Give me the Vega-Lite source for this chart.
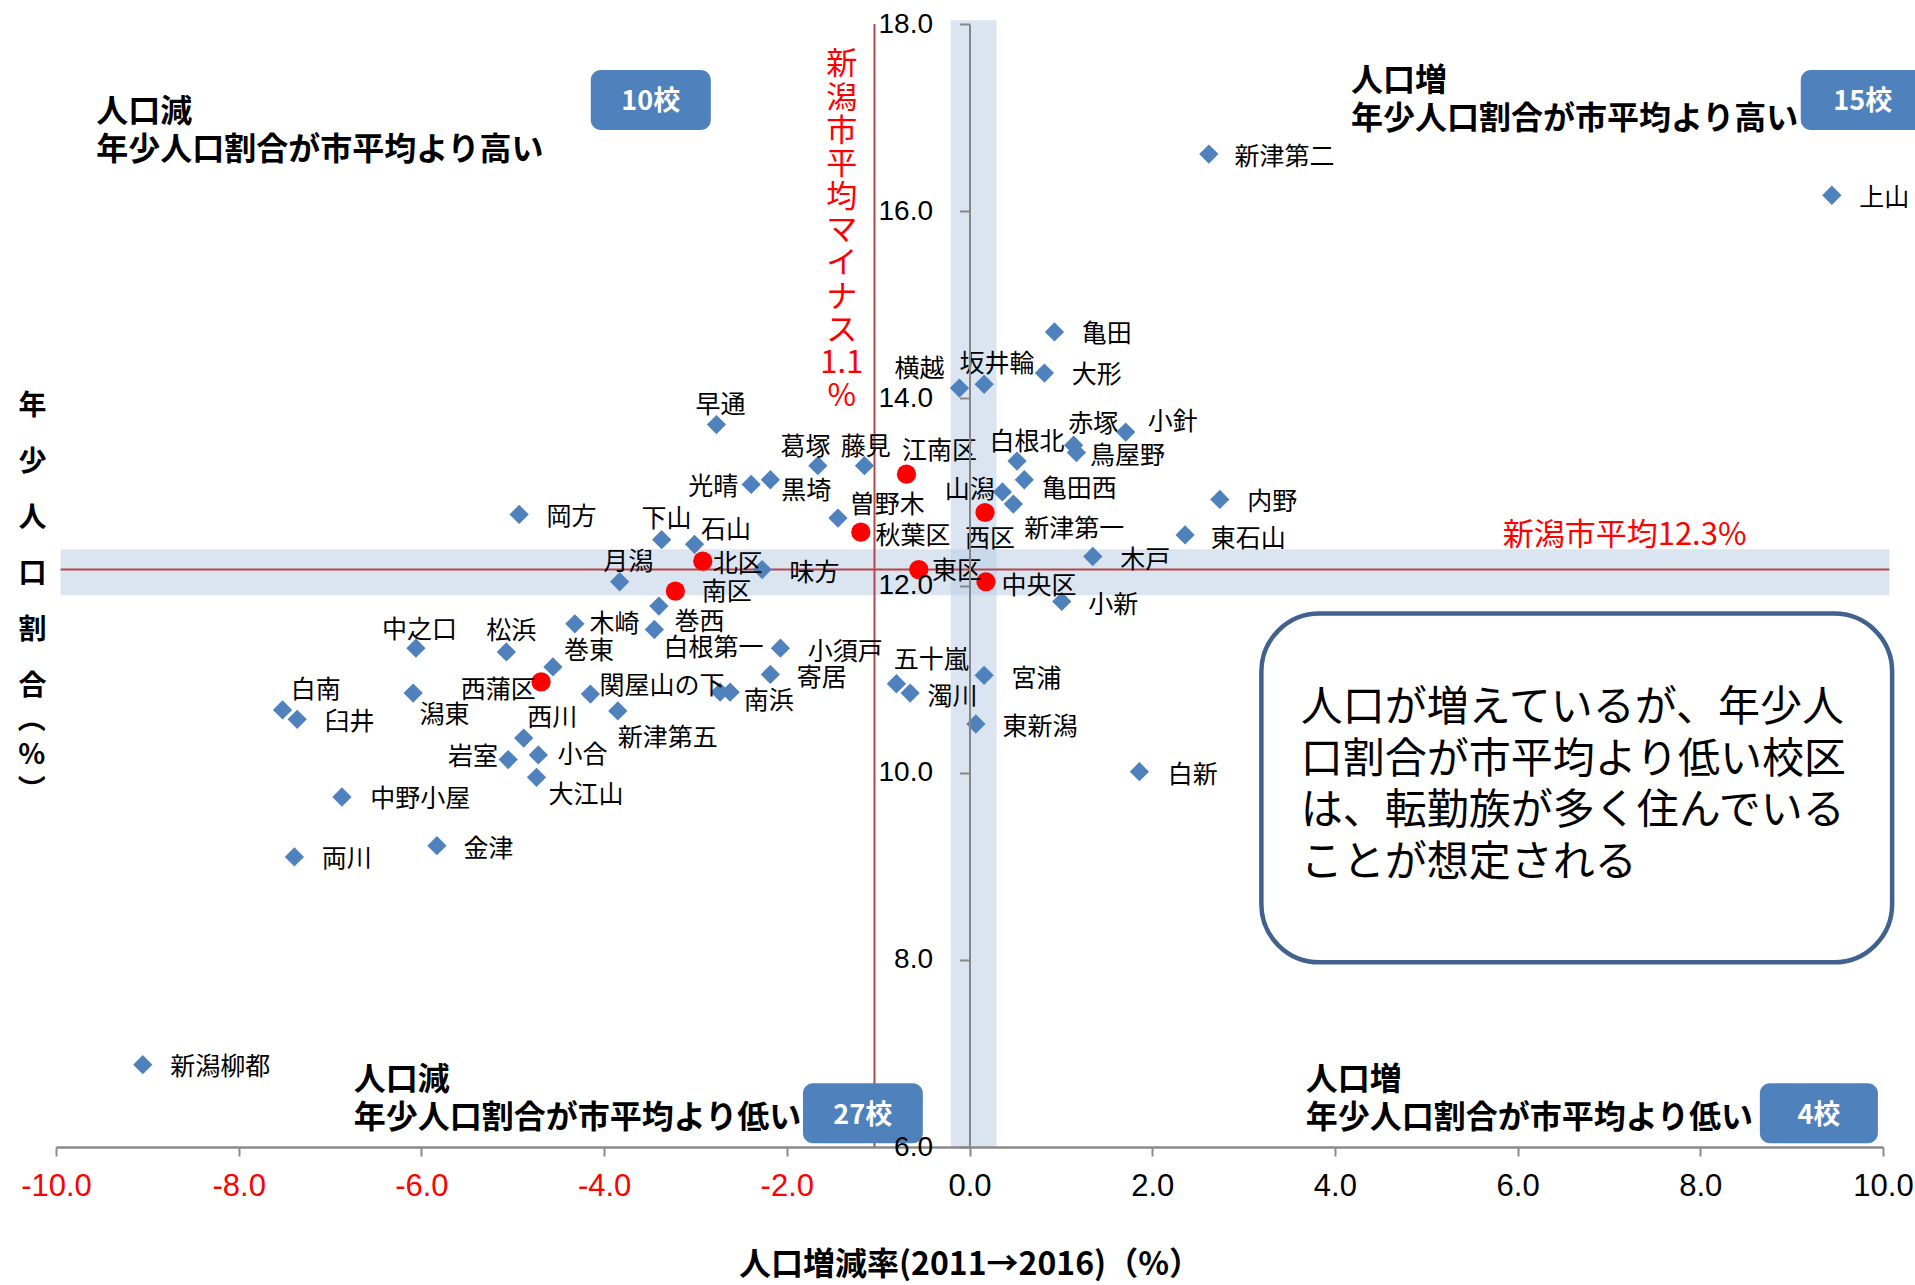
{
  "$schema": "https://vega.github.io/schema/vega-lite/v6.json",
  "width": 1827,
  "height": 1123,
  "autosize": {"type": "none"},
  "padding": {"left": 56, "top": 24, "right": 32, "bottom": 138},
  "background": "white",
  "config": {"view": {"stroke": null}, "text": {"font": "Noto Sans CJK JP"}},
  "datasets": {
    "schools": [
      {"name": "新津第二", "kind": "校区", "x": 2.62, "y": 16.61, "lx": 2.90, "ly": 16.60},
      {"name": "上山", "kind": "校区", "x": 9.44, "y": 16.17, "lx": 9.74, "ly": 16.16},
      {"name": "亀田", "kind": "校区", "x": 0.93, "y": 14.71, "lx": 1.23, "ly": 14.71},
      {"name": "大形", "kind": "校区", "x": 0.82, "y": 14.27, "lx": 1.12, "ly": 14.27},
      {"name": "横越", "kind": "校区", "x": -0.11, "y": 14.11, "lx": -0.82, "ly": 14.34},
      {"name": "坂井輪", "kind": "校区", "x": 0.16, "y": 14.15, "lx": -0.11, "ly": 14.39},
      {"name": "小針", "kind": "校区", "x": 1.71, "y": 13.64, "lx": 1.95, "ly": 13.77},
      {"name": "赤塚", "kind": "校区", "x": 1.14, "y": 13.50, "lx": 1.08, "ly": 13.75},
      {"name": "鳥屋野", "kind": "校区", "x": 1.17, "y": 13.42, "lx": 1.32, "ly": 13.40},
      {"name": "白根北", "kind": "校区", "x": 0.52, "y": 13.33, "lx": 0.22, "ly": 13.55},
      {"name": "亀田西", "kind": "校区", "x": 0.60, "y": 13.13, "lx": 0.79, "ly": 13.05},
      {"name": "山潟", "kind": "校区", "x": 0.36, "y": 13.00, "lx": -0.27, "ly": 13.04},
      {"name": "新津第一", "kind": "校区", "x": 0.48, "y": 12.87, "lx": 0.60, "ly": 12.63},
      {"name": "内野", "kind": "校区", "x": 2.74, "y": 12.92, "lx": 3.04, "ly": 12.91},
      {"name": "東石山", "kind": "校区", "x": 2.36, "y": 12.54, "lx": 2.64, "ly": 12.52},
      {"name": "木戸", "kind": "校区", "x": 1.35, "y": 12.31, "lx": 1.65, "ly": 12.29},
      {"name": "小新", "kind": "校区", "x": 1.01, "y": 11.83, "lx": 1.30, "ly": 11.81},
      {"name": "宮浦", "kind": "校区", "x": 0.16, "y": 11.04, "lx": 0.46, "ly": 11.02},
      {"name": "東新潟", "kind": "校区", "x": 0.07, "y": 10.52, "lx": 0.36, "ly": 10.51},
      {"name": "白新", "kind": "校区", "x": 1.86, "y": 10.01, "lx": 2.17, "ly": 10.00},
      {"name": "五十嵐", "kind": "校区", "x": -0.80, "y": 10.95, "lx": -0.83, "ly": 11.22},
      {"name": "濁川", "kind": "校区", "x": -0.65, "y": 10.85, "lx": -0.46, "ly": 10.83},
      {"name": "江南区", "kind": "区", "x": -0.69, "y": 13.19, "lx": -0.74, "ly": 13.46},
      {"name": "西区", "kind": "区", "x": 0.17, "y": 12.78, "lx": -0.05, "ly": 12.52},
      {"name": "秋葉区", "kind": "区", "x": -1.19, "y": 12.57, "lx": -1.03, "ly": 12.55},
      {"name": "東区", "kind": "区", "x": -0.555, "y": 12.17, "lx": -0.41, "ly": 12.18},
      {"name": "中央区", "kind": "区", "x": 0.18, "y": 12.04, "lx": 0.35, "ly": 12.02},
      {"name": "曽野木", "kind": "校区", "x": -1.44, "y": 12.72, "lx": -1.31, "ly": 12.88},
      {"name": "葛塚", "kind": "校区", "x": -1.66, "y": 13.28, "lx": -2.07, "ly": 13.50},
      {"name": "藤見", "kind": "校区", "x": -1.15, "y": 13.28, "lx": -1.41, "ly": 13.50},
      {"name": "光晴", "kind": "校区", "x": -2.39, "y": 13.08, "lx": -3.08, "ly": 13.07},
      {"name": "黒埼", "kind": "校区", "x": -2.18, "y": 13.13, "lx": -2.06, "ly": 13.03},
      {"name": "早通", "kind": "校区", "x": -2.77, "y": 13.72, "lx": -3.00, "ly": 13.95},
      {"name": "岡方", "kind": "校区", "x": -4.93, "y": 12.76, "lx": -4.63, "ly": 12.75},
      {"name": "下山", "kind": "校区", "x": -3.37, "y": 12.49, "lx": -3.59, "ly": 12.73},
      {"name": "石山", "kind": "校区", "x": -3.01, "y": 12.44, "lx": -2.94, "ly": 12.61},
      {"name": "北区", "kind": "区", "x": -2.92, "y": 12.26, "lx": -2.81, "ly": 12.25},
      {"name": "味方", "kind": "校区", "x": -2.27, "y": 12.17, "lx": -1.97, "ly": 12.16},
      {"name": "月潟", "kind": "校区", "x": -3.83, "y": 12.04, "lx": -4.01, "ly": 12.27},
      {"name": "南区", "kind": "区", "x": -3.22, "y": 11.94, "lx": -2.93, "ly": 11.95},
      {"name": "巻西", "kind": "校区", "x": -3.40, "y": 11.78, "lx": -3.23, "ly": 11.63},
      {"name": "木崎", "kind": "校区", "x": -4.32, "y": 11.59, "lx": -4.16, "ly": 11.61},
      {"name": "白根第一", "kind": "校区", "x": -3.45, "y": 11.53, "lx": -3.35, "ly": 11.35},
      {"name": "小須戸", "kind": "校区", "x": -2.07, "y": 11.33, "lx": -1.77, "ly": 11.31},
      {"name": "中之口", "kind": "校区", "x": -6.06, "y": 11.33, "lx": -6.43, "ly": 11.55},
      {"name": "松浜", "kind": "校区", "x": -5.07, "y": 11.29, "lx": -5.29, "ly": 11.53},
      {"name": "巻東", "kind": "校区", "x": -4.56, "y": 11.13, "lx": -4.44, "ly": 11.32},
      {"name": "寄居", "kind": "校区", "x": -2.18, "y": 11.05, "lx": -1.89, "ly": 11.03},
      {"name": "西蒲区", "kind": "区", "x": -4.69, "y": 10.97, "lx": -5.57, "ly": 10.91},
      {"name": "関屋山の下", "kind": "校区", "x": -4.15, "y": 10.84, "lx": -4.05, "ly": 10.95},
      {"name": "南浜", "kind": "校区", "x": -2.62, "y": 10.86, "lx": -2.47, "ly": 10.79},
      {"name": "", "kind": "校区", "x": -2.73, "y": 10.86, "lx": -2.73, "ly": 10.86},
      {"name": "新津第五", "kind": "校区", "x": -3.85, "y": 10.66, "lx": -3.85, "ly": 10.39},
      {"name": "西川", "kind": "校区", "x": -4.88, "y": 10.37, "lx": -4.84, "ly": 10.61},
      {"name": "潟東", "kind": "校区", "x": -6.09, "y": 10.85, "lx": -6.02, "ly": 10.64},
      {"name": "白南", "kind": "校区", "x": -7.52, "y": 10.67, "lx": -7.43, "ly": 10.91},
      {"name": "臼井", "kind": "校区", "x": -7.36, "y": 10.57, "lx": -7.06, "ly": 10.56},
      {"name": "岩室", "kind": "校区", "x": -5.05, "y": 10.14, "lx": -5.71, "ly": 10.19},
      {"name": "小合", "kind": "校区", "x": -4.72, "y": 10.19, "lx": -4.51, "ly": 10.21},
      {"name": "大江山", "kind": "校区", "x": -4.74, "y": 9.95, "lx": -4.61, "ly": 9.78},
      {"name": "中野小屋", "kind": "校区", "x": -6.87, "y": 9.74, "lx": -6.56, "ly": 9.74},
      {"name": "金津", "kind": "校区", "x": -5.83, "y": 9.22, "lx": -5.54, "ly": 9.21},
      {"name": "両川", "kind": "校区", "x": -7.39, "y": 9.10, "lx": -7.09, "ly": 9.10},
      {"name": "新潟柳都", "kind": "校区", "x": -9.05, "y": 6.88, "lx": -8.75, "ly": 6.88}
    ],
    "shapes": [
      {"kind": "band", "x": -9.95, "x2": 10.07, "y": 11.896, "y2": 12.388},
      {"kind": "band", "x": -0.205, "x2": 0.296, "y": 6, "y2": 18.04},
      {"kind": "line", "x": -1.04, "x2": -1.04, "y": 6, "y2": 18},
      {"kind": "line", "x": -9.95, "x2": 10.07, "y": 12.17, "y2": 12.17},
      {"kind": "callout", "x": 3.195, "x2": 10.10, "y": 7.973, "y2": 11.70},
      {"kind": "count", "x": -4.146, "x2": -2.832, "y": 16.867, "y2": 17.508},
      {"kind": "count", "x": 9.10, "x2": 10.46, "y": 16.867, "y2": 17.508},
      {"kind": "count", "x": -1.823, "x2": -0.511, "y": 6.039, "y2": 6.680},
      {"kind": "count", "x": 8.652, "x2": 9.944, "y": 6.039, "y2": 6.680}
    ],
    "notes": [
      {"kind": "quadrant", "text": "人口減\n年少人口割合が市平均より高い", "x": -9.56, "y": 17.221},
      {"kind": "quadrant", "text": "人口増\n年少人口割合が市平均より高い", "x": 4.176, "y": 17.55},
      {"kind": "quadrant", "text": "人口減\n年少人口割合が市平均より低い", "x": -6.74, "y": 6.879},
      {"kind": "quadrant", "text": "人口増\n年少人口割合が市平均より低い", "x": 3.681, "y": 6.879},
      {"kind": "count", "text": "10校", "x": -3.489, "y": 17.164},
      {"kind": "count", "text": "15校", "x": 9.779, "y": 17.164},
      {"kind": "count", "text": "27校", "x": -1.169, "y": 6.336},
      {"kind": "count", "text": "4校", "x": 9.298, "y": 6.336},
      {"kind": "avgx", "text": "新\n潟\n市\n平\n均\nマ\nイ\nナ\nス\n1.1\n%", "x": -1.398, "y": 17.719},
      {"kind": "avgy", "text": "新潟市平均12.3%", "x": 5.837, "y": 12.528},
      {"kind": "note", "text": "人口が増えているが、年少人\n口割合が市平均より低い校区\nは、転勤族が多く住んでいる\nことが想定される", "x": 3.627, "y": 10.904},
      {"kind": "ytitle", "text": "︵\n%\n︶", "x": -10.265, "y": 10.704}
    ]
  },
  "layer": [
    {
      "data": {"name": "shapes"},
      "transform": [{"filter": "datum.kind == 'band'"}],
      "mark": {"type": "rect", "color": "#B8CCE4", "opacity": 0.5},
      "encoding": {
        "x": {
          "field": "x", "type": "quantitative",
          "scale": {"domain": [-10, 10], "nice": false, "zero": false},
          "axis": {
            "values": [-10, -8, -6, -4, -2, 0, 2, 4, 6, 8, 10],
            "labelExpr": "(datum.value < 0 ? '-' : '') + format(abs(datum.value), '.1f')",
            "grid": false,
            "domainColor": "#8A8A8A", "domainWidth": 2.5,
            "tickColor": "#8A8A8A", "tickWidth": 2, "tickSize": 9,
            "labelFont": "Liberation Sans", "labelFontSize": 31, "labelPadding": 15.5,
            "labelColor": {"condition": {"test": "datum.value < 0", "value": "#FF0000"}, "value": "#000000"},
            "labelFlush": false, "labelOverlap": false,
            "title": "人口増減率(2011→2016)（%）",
            "titleFont": "Noto Sans CJK JP", "titleFontSize": 32, "titleFontWeight": "bold",
            "titleColor": "#000000", "titleBaseline": "middle", "titleY": 117.5,
            "zindex": 1
          }
        },
        "x2": {"field": "x2"},
        "y": {
          "field": "y", "type": "quantitative",
          "scale": {"domain": [6, 18], "nice": false, "zero": false},
          "axis": {
            "values": [6, 8, 10, 12, 14, 16, 18],
            "format": ".1f", "grid": false, "offset": -913.5,
            "domainColor": "#868686", "domainWidth": 2,
            "tickColor": "#868686", "tickWidth": 2, "tickSize": 10,
            "labelFont": "Liberation Sans", "labelFontSize": 28, "labelColor": "#000000",
            "labelPadding": 27, "labelFlush": false, "labelOverlap": false,
            "title": ["年", "少", "人", "口", "割", "合"],
            "titleFont": "Noto Sans CJK JP", "titleFontSize": 28, "titleFontWeight": "bold",
            "titleColor": "#000000", "titleAngle": 0, "titleAlign": "center",
            "titleBaseline": "top", "titleLineHeight": 56,
            "titleX": -937.5, "titleY": 368.5,
            "zindex": 1
          }
        },
        "y2": {"field": "y2"}
      }
    },
    {
      "data": {"name": "shapes"},
      "transform": [{"filter": "datum.kind == 'line'"}],
      "mark": {"type": "rule", "color": "#B5464B", "strokeWidth": 2},
      "encoding": {
        "x": {"field": "x", "type": "quantitative"},
        "x2": {"field": "x2"},
        "y": {"field": "y", "type": "quantitative"},
        "y2": {"field": "y2"}
      }
    },
    {
      "data": {"name": "shapes"},
      "transform": [{"filter": "datum.kind == 'callout'"}],
      "mark": {"type": "rect", "fill": "white", "stroke": "#41628F", "strokeWidth": 4.5, "cornerRadius": 58},
      "encoding": {
        "x": {"field": "x", "type": "quantitative"},
        "x2": {"field": "x2"},
        "y": {"field": "y", "type": "quantitative"},
        "y2": {"field": "y2"}
      }
    },
    {
      "data": {"name": "shapes"},
      "transform": [{"filter": "datum.kind == 'count'"}],
      "mark": {"type": "rect", "fill": "#4F81BD", "cornerRadius": 10},
      "encoding": {
        "x": {"field": "x", "type": "quantitative"},
        "x2": {"field": "x2"},
        "y": {"field": "y", "type": "quantitative"},
        "y2": {"field": "y2"}
      }
    },
    {
      "data": {"name": "schools"},
      "transform": [{"filter": "datum.kind == '校区'"}],
      "mark": {"type": "point", "shape": "diamond", "filled": true, "color": "#4F81BD", "opacity": 1, "size": 372},
      "encoding": {
        "x": {"field": "x", "type": "quantitative"},
        "y": {"field": "y", "type": "quantitative"}
      }
    },
    {
      "data": {"name": "schools"},
      "transform": [{"filter": "datum.kind == '区'"}],
      "mark": {"type": "point", "shape": "circle", "filled": true, "color": "#FF0000", "opacity": 1, "size": 370},
      "encoding": {
        "x": {"field": "x", "type": "quantitative"},
        "y": {"field": "y", "type": "quantitative"}
      }
    },
    {
      "data": {"name": "schools"},
      "transform": [{"filter": "datum.name != ''"}],
      "mark": {"type": "text", "align": "left", "baseline": "middle", "dy": 2, "fontSize": 25, "font": "Noto Sans CJK JP", "color": "#000000"},
      "encoding": {
        "x": {"field": "lx", "type": "quantitative"},
        "y": {"field": "ly", "type": "quantitative"},
        "text": {"field": "name"}
      }
    },
    {
      "data": {"name": "notes"},
      "transform": [{"filter": "datum.kind == 'quadrant'"}],
      "mark": {"type": "text", "align": "left", "baseline": "top", "fontSize": 32, "fontWeight": "bold", "lineHeight": 38, "lineBreak": "\n", "font": "Noto Sans CJK JP", "color": "#000000"},
      "encoding": {
        "x": {"field": "x", "type": "quantitative"},
        "y": {"field": "y", "type": "quantitative"},
        "text": {"field": "text"}
      }
    },
    {
      "data": {"name": "notes"},
      "transform": [{"filter": "datum.kind == 'count'"}],
      "mark": {"type": "text", "align": "center", "baseline": "middle", "fontSize": 27, "fontWeight": "bold", "font": "Noto Sans CJK JP", "color": "#FFFFFF"},
      "encoding": {
        "x": {"field": "x", "type": "quantitative"},
        "y": {"field": "y", "type": "quantitative"},
        "text": {"field": "text"}
      }
    },
    {
      "data": {"name": "notes"},
      "transform": [{"filter": "datum.kind == 'avgx'"}],
      "mark": {"type": "text", "align": "center", "baseline": "top", "fontSize": 31, "lineHeight": 33.2, "lineBreak": "\n", "font": "Noto Sans CJK JP", "color": "#FF0000"},
      "encoding": {
        "x": {"field": "x", "type": "quantitative"},
        "y": {"field": "y", "type": "quantitative"},
        "text": {"field": "text"}
      }
    },
    {
      "data": {"name": "notes"},
      "transform": [{"filter": "datum.kind == 'avgy'"}],
      "mark": {"type": "text", "align": "left", "baseline": "middle", "fontSize": 31, "font": "Noto Sans CJK JP", "color": "#FF0000"},
      "encoding": {
        "x": {"field": "x", "type": "quantitative"},
        "y": {"field": "y", "type": "quantitative"},
        "text": {"field": "text"}
      }
    },
    {
      "data": {"name": "notes"},
      "transform": [{"filter": "datum.kind == 'note'"}],
      "mark": {"type": "text", "align": "left", "baseline": "top", "fontSize": 42, "lineHeight": 51.5, "lineBreak": "\n", "font": "Noto Sans CJK JP", "color": "#000000"},
      "encoding": {
        "x": {"field": "x", "type": "quantitative"},
        "y": {"field": "y", "type": "quantitative"},
        "text": {"field": "text"}
      }
    },
    {
      "data": {"name": "notes"},
      "transform": [{"filter": "datum.kind == 'ytitle'"}],
      "mark": {"type": "text", "align": "center", "baseline": "top", "fontSize": 28, "fontWeight": "bold", "lineHeight": 35.5, "lineBreak": "\n", "font": "Noto Sans CJK JP", "color": "#000000"},
      "encoding": {
        "x": {"field": "x", "type": "quantitative"},
        "y": {"field": "y", "type": "quantitative"},
        "text": {"field": "text"}
      }
    }
  ]
}
